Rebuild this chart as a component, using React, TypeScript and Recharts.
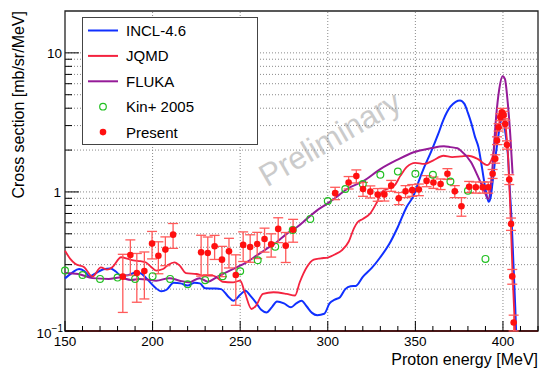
import React from 'react'
import { ComposedChart, Line, Scatter, XAxis, YAxis, ReferenceLine, ReferenceArea, ErrorBar, Legend, Label } from 'recharts'

const FONT = '"Liberation Sans", Arial, Helvetica, sans-serif'
const BLUE = '#1030ff'
const RED = '#f4233f'
const PURPLE = '#951b98'
const GREEN = '#22c022'
const MARK = '#ff1010'

// INCL-4.6
const inclE = [150, 154, 158, 161, 164, 168, 172, 176, 179, 182, 186, 190, 193, 197, 201, 205, 208, 212, 216, 220, 224, 227, 230, 235, 239, 243, 246, 250, 253, 256, 259, 262, 265, 268, 271, 275, 279, 282, 285, 288, 291, 294, 298, 301, 304, 307, 310, 313, 316, 320, 325, 330, 335, 340, 345, 349, 352, 355, 359, 363, 366, 370, 373, 375.5, 378, 380, 382, 384, 386, 388, 390, 391.8, 393, 394, 396, 397.5, 399, 400, 401.5, 402.7, 404, 405, 406, 407, 407.5]
const inclV = [0.239, 0.262, 0.279, 0.27, 0.248, 0.262, 0.278, 0.282, 0.268, 0.25, 0.252, 0.262, 0.26, 0.235, 0.208, 0.193, 0.198, 0.222, 0.22, 0.212, 0.222, 0.22, 0.203, 0.202, 0.2, 0.178, 0.165, 0.182, 0.195, 0.178, 0.16, 0.142, 0.136, 0.148, 0.163, 0.158, 0.148, 0.158, 0.165, 0.15, 0.135, 0.13, 0.133, 0.158, 0.168, 0.175, 0.2, 0.21, 0.211, 0.245, 0.283, 0.339, 0.42, 0.56, 0.78, 0.94, 1.2, 1.5, 1.95, 2.6, 3.3, 4.1, 4.45, 4.55, 4.3, 3.7, 3.1, 2.5, 2.1, 1.5, 1.05, 0.85, 0.92, 1.15, 1.9, 2.6, 3.3, 3.4, 2.6, 1.93, 1.0, 0.6, 0.3, 0.15, 0.1]

// JQMD
const jqmdE = [150, 153, 156, 161, 165.7, 170.5, 174, 177, 182, 186, 189, 193, 196, 199, 202, 206, 209, 212.5, 215.5, 219, 225, 230, 234.5, 238, 240, 246, 250, 252.6, 256.5, 259, 263, 269, 276.5, 281.3, 284, 288, 292, 296, 300.4, 304, 308, 312, 315, 317, 320, 324, 328, 331, 334, 338, 341.5, 345, 350, 355, 360, 366, 371, 376, 380, 385.5, 391, 394, 396, 398, 399.2, 400.4, 401.7, 403, 404.2, 405.5, 406.9]
const jqmdV = [0.378, 0.33, 0.303, 0.287, 0.246, 0.287, 0.276, 0.287, 0.339, 0.33, 0.322, 0.318, 0.312, 0.29, 0.272, 0.279, 0.3, 0.312, 0.295, 0.261, 0.257, 0.25, 0.25, 0.236, 0.226, 0.224, 0.23, 0.19, 0.144, 0.152, 0.185, 0.19, 0.185, 0.18, 0.224, 0.287, 0.326, 0.333, 0.339, 0.355, 0.38, 0.44, 0.55, 0.605, 0.64, 0.695, 0.84, 1.0, 1.05, 1.11, 1.31, 1.51, 1.62, 1.59, 1.68, 1.82, 1.78, 1.8, 1.82, 1.73, 1.56, 1.78, 2.54, 3.17, 3.74, 3.64, 2.84, 1.73, 0.755, 0.25, 0.1]

// FLUKA
const flukaE = [150, 157.6, 165.7, 175, 181, 187.7, 192.4, 197, 202, 209.6, 215.4, 221, 226.8, 231.6, 236.4, 242, 248, 253.6, 259.3, 265, 270.8, 276.5, 282.3, 288, 293.7, 299.5, 305, 311, 320.5, 330, 339.6, 349, 358.7, 366.3, 370, 374, 376, 381.7, 385.5, 389.3, 391.6, 394.1, 396, 397.9, 399.8, 401.1, 402.7, 404.2, 405.5]
const flukaV = [0.261, 0.257, 0.24, 0.237, 0.242, 0.233, 0.237, 0.235, 0.23, 0.24, 0.23, 0.224, 0.24, 0.226, 0.243, 0.264, 0.287, 0.312, 0.348, 0.389, 0.435, 0.499, 0.557, 0.64, 0.734, 0.82, 0.92, 1.05, 1.2, 1.46, 1.7, 1.93, 2.06, 2.13, 2.1, 2.06, 1.98, 1.64, 1.31, 1.02, 0.89, 1.55, 3.35, 5.51, 6.8, 6.5, 4.42, 2.54, 1.35]

// Kin+ 2005
const kinE = [150, 160, 170, 180, 190, 200, 210, 220, 230, 240, 250, 260, 270, 280, 290, 300, 310, 320, 330, 340, 350, 360, 370, 380, 390]
const kinV = [0.272, 0.253, 0.237, 0.242, 0.237, 0.248, 0.237, 0.217, 0.232, 0.248, 0.269, 0.323, 0.404, 0.533, 0.64, 0.861, 1.05, 1.14, 1.33, 1.4, 1.35, 1.33, 1.19, 1.02, 0.33]

// Present
const presE = [183, 187.3, 191, 195.3, 199.7, 203.3, 207.3, 211.7, 227.7, 231.5, 235.4, 239.6, 243.6, 247.5, 251.7, 255.7, 259.7, 263.9, 267.7, 271.7, 276, 280.2, 304.2, 311.9, 316.3, 320.1, 324.3, 328.5, 332.3, 336.2, 340.5, 344.4, 348.2, 352, 356.4, 360.3, 364.4, 368.3, 372.5, 376.3, 380.7, 384.5, 388.4, 391.6, 394.1, 395.6, 396.6, 397.5, 398.5, 399.4, 400.4, 401.3, 402.3, 403.6, 404.6, 405.3, 406.1]
const presV = [0.246, 0.352, 0.261, 0.27, 0.425, 0.348, 0.385, 0.493, 0.368, 0.364, 0.407, 0.326, 0.374, 0.253, 0.416, 0.402, 0.422, 0.459, 0.42, 0.542, 0.411, 0.535, 0.98, 1.17, 1.3, 1.05, 1.005, 0.957, 0.96, 1.11, 0.9, 1.01, 1.03, 1.04, 1.2, 1.17, 1.14, 1.35, 1.01, 0.789, 1.09, 1.08, 1.08, 1.08, 1.35, 1.73, 2.34, 2.92, 3.45, 3.74, 3.58, 3.08, 2.18, 1.23, 0.589, 0.247, 0.115]
const presErr = [0.11, 0.1, 0.1, 0.1, 0.095, 0.09, 0.09, 0.1, 0.12, 0.11, 0.08, 0.08, 0.09, 0.1, 0.1, 0.09, 0.09, 0.09, 0.08, 0.11, 0.1, 0.1, 0.1, 0.12, 0.14, 0.12, 0.1, 0.1, 0.1, 0.1, 0.09, 0.1, 0.1, 0.1, 0.11, 0.11, 0.1, 0.12, 0.1, 0.12, 0.1, 0.1, 0.1, 0.1, 0.1, 0.12, 0.15, 0.18, 0.2, 0.25, 0.22, 0.2, 0.15, 0.1, 0.06, 0.03, 0.015]

const xTicks = [150, 160, 170, 180, 190, 200, 210, 220, 230, 240, 250, 260, 270, 280, 290, 300, 310, 320, 330, 340, 350, 360, 370, 380, 390, 400, 410, 420]
const yTicks = [0.1, 0.2, 0.3, 0.4, 0.5, 0.6, 0.7, 0.8, 0.9, 1, 2, 3, 4, 5, 6, 7, 8, 9, 10]
const xGrid = [200, 250, 300, 350, 400]
const yGrid = [0.2, 0.3, 0.4, 0.5, 0.6, 0.7, 0.8, 0.9, 1, 2, 3, 4, 5, 6, 7, 8, 9, 10]

const legendNames = ['INCL-4.6', 'JQMD', 'FLUKA', 'Kin+ 2005', 'Present']
const legendKinds = ['line', 'line', 'line', 'open', 'dot']
const legendColors = [BLUE, RED, PURPLE, GREEN, MARK]

const zip = (es: number[], vs: number[]) => es.map((e, i) => ({ e, v: vs[i] }))
const incl = zip(inclE, inclV)
const jqmd = zip(jqmdE, jqmdV)
const fluka = zip(flukaE, flukaV)
const kin = zip(kinE, kinV)
const present = presE.map((e, i) => ({ e, v: presV[i], err: presErr[i] }))

function XTick({ x, y, payload }: any) {
  const v = payload.value
  const major = v % 50 === 0
  return (
    <g>
      <line x1={x} x2={x} y1={y} y2={y - (major ? 10 : 5)} stroke="#000" />
      {major && (
        <text x={x} y={y + 15} textAnchor="middle" fontSize={13.5} fontFamily={FONT} fill="#000">
          {v}
        </text>
      )}
    </g>
  )
}

function YTick({ x, y, payload }: any) {
  const v = payload.value
  const major = v === 0.1 || v === 1 || v === 10
  return (
    <g>
      <line x1={x} x2={x + (major ? 14 : 7)} y1={y} y2={y} stroke="#000" />
      {v === 10 && (
        <text x={x - 3} y={y + 5} textAnchor="end" fontSize={13.5} fontFamily={FONT}>10</text>
      )}
      {v === 1 && (
        <text x={x - 4} y={y + 5} textAnchor="end" fontSize={13.5} fontFamily={FONT}>1</text>
      )}
      {v === 0.1 && (
        <text x={x - 2} y={y + 7} textAnchor="end" fontSize={13.5} fontFamily={FONT}>
          10<tspan dy={-6} fontSize={10}>−1</tspan>
        </text>
      )}
    </g>
  )
}

function LegendBox() {
  return (
    <div style={{ width: 176, height: 128, border: '1.5px solid #444', background: '#fff', boxSizing: 'border-box' }}>
      <svg width={173} height={125}>
        {legendNames.map((name, i) => {
          const cy = 12.5 + i * 25.4
          const kind = legendKinds[i]
          return (
            <g key={name}>
              {kind === 'line' && <line x1={5} x2={35} y1={cy} y2={cy} stroke={legendColors[i]} strokeWidth={2} />}
              {kind === 'open' && <circle cx={20} cy={cy} r={3.3} fill="none" stroke={legendColors[i]} strokeWidth={1.2} />}
              {kind === 'dot' && <circle cx={20} cy={cy} r={3.3} fill={legendColors[i]} />}
              <text x={43} y={cy + 5.5} fontSize={15} fontFamily={FONT} fill="#000">{name}</text>
            </g>
          )
        })}
      </svg>
    </div>
  )
}

export default function App() {
  return (
    <div style={{ position: 'absolute', left: 0, top: 0, width: 539, height: 368, background: '#fff', fontFamily: FONT }}>
      <div
        style={{
          position: 'absolute',
          left: 330,
          top: 139,
          transform: 'translate(-50%, -50%) rotate(-30deg)',
          fontSize: 31.5,
          color: '#cbcbcb',
          whiteSpace: 'nowrap',
          fontFamily: FONT,
        }}
      >
        Preliminary
      </div>
      <ComposedChart width={539} height={368} margin={{ top: 11, right: 1, bottom: 0, left: 0 }}>
        <XAxis
          type="number"
          dataKey="e"
          domain={[150, 420]}
          ticks={xTicks}
          interval={0}
          height={37}
          tickSize={0}
          tickMargin={0}
          axisLine={false}
          tick={<XTick />}
        >
          <Label
            content={() => (
              <text x={538} y={365} textAnchor="end" fontSize={16} fontFamily={FONT} fill="#000">
                Proton energy [MeV]
              </text>
            )}
          />
        </XAxis>
        <YAxis
          type="number"
          scale="log"
          domain={[0.1, 20]}
          ticks={yTicks}
          interval={0}
          width={65}
          tickSize={0}
          tickMargin={0}
          axisLine={false}
          tick={<YTick />}
        >
          <Label
            content={() => (
              <text x={24} y={11} transform="rotate(-90 24 11)" textAnchor="end" fontSize={16} fontFamily={FONT} fill="#000">
                Cross section [mb/sr/MeV]
              </text>
            )}
          />
        </YAxis>
        {yGrid.map((g) => (
          <ReferenceLine key={'y' + g} y={g} stroke="#8a8a8a" strokeDasharray="1 2" />
        ))}
        {xGrid.map((g) => (
          <ReferenceLine key={'x' + g} x={g} stroke="#8a8a8a" strokeDasharray="1 2" />
        ))}
        <ReferenceArea x1={150} x2={420} y1={0.1} y2={20} fill="none" stroke="#222" strokeWidth={1.3} />
        <ReferenceLine y={0.1} stroke="#4a1818" strokeWidth={2} />
        <Line data={incl} dataKey="v" type="monotone" stroke={BLUE} strokeWidth={2} dot={false} isAnimationActive={false} />
        <Line data={jqmd} dataKey="v" type="monotone" stroke={RED} strokeWidth={1.8} dot={false} isAnimationActive={false} />
        <Line data={fluka} dataKey="v" type="monotone" stroke={PURPLE} strokeWidth={2} dot={false} isAnimationActive={false} />
        <Scatter
          data={kin}
          dataKey="v"
          isAnimationActive={false}
          shape={(p: any) => <circle cx={p.cx} cy={p.cy} r={3.4} fill="none" stroke={GREEN} strokeWidth={1.2} />}
        />
        <Scatter
          data={present}
          dataKey="v"
          isAnimationActive={false}
          shape={(p: any) => <circle cx={p.cx} cy={p.cy} r={3.3} fill={MARK} />}
        >
          <ErrorBar dataKey="err" direction="y" width={5} stroke="#ff5a5a" strokeWidth={1.3} isAnimationActive={false} />
        </Scatter>
        <Legend
          layout="vertical"
          align="center"
          verticalAlign="middle"
          width={176}
          height={128}
          wrapperStyle={{ left: 82, top: 17, width: 176, height: 128 }}
          content={() => <LegendBox />}
        />
      </ComposedChart>
    </div>
  )
}
